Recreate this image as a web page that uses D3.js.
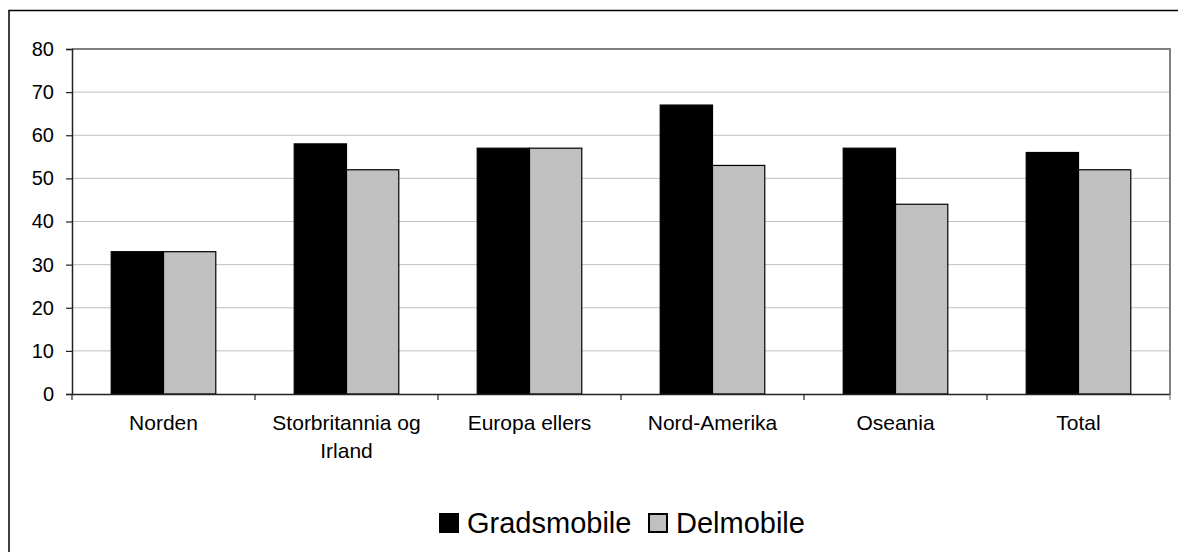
<!DOCTYPE html>
<html><head><meta charset="utf-8">
<script src="https://cdn.jsdelivr.net/npm/d3@7"></script>
<style>
body{margin:0;background:#fff;overflow:hidden;}
svg{display:block;font-family:Arial,"Liberation Sans",sans-serif;}
</style></head>
<body><svg id="c" width="1178" height="552"></svg>
<script>
const categories = ["Norden","Storbritannia og Irland","Europa ellers","Nord-Amerika","Oseania","Total"];
const seriesNames = ["Gradsmobile","Delmobile"];
const gradsmobile = [33,58,57,67,57,56];
const delmobile = [33,52,57,53,44,52];
const yTicks = [0,10,20,30,40,50,60,70,80];
const colors = ["#000000","#c0c0c0"];

const svg = d3.select("#c");
const m = {l:72, t:49, r:1170, b:394};

// outer border (extends beyond the right and bottom edges)
svg.append("path").attr("d","M9,560V10.5H1190")
  .attr("fill","none").attr("stroke","#000").attr("stroke-width",1.5);

const x0 = d3.scaleBand().domain(categories).range([m.l,m.r]).padding(0);
const x1 = d3.scaleBand().domain(seriesNames).range([0,x0.bandwidth()]).paddingInner(0).paddingOuter(0.75);
const y = d3.scaleLinear().domain([0,80]).range([m.b,m.t]);

// gridlines
svg.append("g").selectAll("line").data(yTicks.filter(d=>d>0 && d<80)).join("line")
  .attr("x1",m.l).attr("x2",m.r).attr("y1",d=>y(d)).attr("y2",d=>y(d))
  .attr("stroke","#c0c0c0").attr("stroke-width",1);

// plot top and right border
svg.append("path").attr("d",`M${m.l},${y(80)}H${m.r}V${m.b}`)
  .attr("fill","none").attr("stroke","#808080").attr("stroke-width",2);

// bars
const data = categories.map((c,i)=>({c, vals:[gradsmobile[i],delmobile[i]]}));
const g = svg.append("g").selectAll("g").data(data).join("g")
  .attr("transform",d=>`translate(${x0(d.c)},0)`);
g.selectAll("rect").data(d=>d.vals.map((v,j)=>({s:seriesNames[j],v,j}))).join("rect")
  .attr("x",d=>x1(d.s)).attr("width",x1.bandwidth())
  .attr("y",d=>y(d.v)).attr("height",d=>y(0)-y(d.v))
  .attr("fill",d=>colors[d.j]).attr("stroke","#000").attr("stroke-width",1.2);

// y axis
const ya = svg.append("g").attr("transform",`translate(${m.l},0)`)
  .call(d3.axisLeft(y).tickValues(yTicks).tickSize(6).tickPadding(12));
ya.select(".domain").attr("stroke","#222").attr("stroke-width",1.5);
ya.selectAll(".tick line").attr("stroke","#222").attr("stroke-width",1.2);
ya.selectAll("text").attr("font-size",20).attr("fill","#000").attr("font-family","Arial,'Liberation Sans',sans-serif");

// x axis
const xa = svg.append("g").attr("transform",`translate(0,${m.b})`)
  .call(d3.axisBottom(x0).tickSize(0).tickFormat(""));
xa.select(".domain").attr("stroke","#222").attr("stroke-width",1.5);
xa.selectAll(".tick").remove();
const bounds = categories.map(c=>x0(c)).concat([m.r]);
svg.append("g").selectAll("line").data(bounds).join("line")
  .attr("x1",d=>d).attr("x2",d=>d).attr("y1",m.b).attr("y2",m.b+6)
  .attr("stroke",(d,i)=>i===bounds.length-1?"#808080":"#222").attr("stroke-width",1.2);

// category labels with wrap
const lab = svg.append("g").selectAll("text").data(categories).join("text")
  .attr("x",d=>x0(d)+x0.bandwidth()/2).attr("y",430)
  .attr("text-anchor","middle").attr("font-size",21).attr("fill","#000");
lab.each(function(d){
  const t = d3.select(this);
  const maxW = 170;
  const words = d.split(" ");
  let lines=[], cur="";
  const tmp = t.append("tspan");
  words.forEach(w=>{
    const test = cur?cur+" "+w:w;
    tmp.text(test);
    if(tmp.node().getComputedTextLength()>maxW && cur){lines.push(cur);cur=w;}
    else cur=test;
  });
  lines.push(cur);
  tmp.remove();
  lines.forEach((l,i)=>t.append("tspan").attr("x",x0(d)+x0.bandwidth()/2).attr("dy",i?28:0).text(l));
});

// legend
const leg = svg.append("g");
const legX = [439,648];
seriesNames.forEach((s,i)=>{
  leg.append("rect").attr("x",legX[i]+1).attr("y",514).attr("width",18).attr("height",18)
    .attr("fill",colors[i]).attr("stroke","#000").attr("stroke-width",2);
  leg.append("text").attr("x",legX[i]+28).attr("y",533).attr("font-size",29).attr("fill","#000").text(s);
});
</script></body></html>
